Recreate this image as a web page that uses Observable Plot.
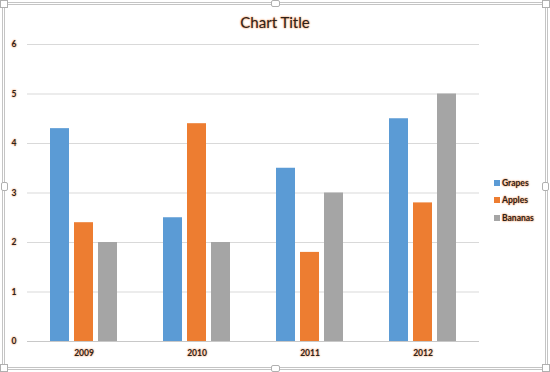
<!DOCTYPE html>
<html>
<head>
<meta charset="utf-8">
<script src="https://cdn.jsdelivr.net/npm/d3@7"></script>
<script src="https://cdn.jsdelivr.net/npm/@observablehq/plot@0.6"></script>
<style>
  html, body { margin: 0; padding: 0; background: #fff; }
  #wrap { position: relative; width: 550px; height: 372px; overflow: hidden; font-family: Lato, "Open Sans", sans-serif; }
  .glow { color: #2e2118; text-shadow: 0 0 2px #f4b183, 0 0 2px #f4b183, 0 0 1px #f4b183; }
  #frame { position: absolute; left: 2px; top: 2px; width: 540px; height: 362px; border: 3px double #c4c4c4; }
  .h { position: absolute; background: #fff; border: 1px solid #b0b0b0; box-sizing: border-box; }
  #title { position: absolute; left: 0; width: 550px; top: 13px; text-align: center; font-size: 15px; }
  #legend { position: absolute; left: 494px; top: 174px; font-size: 8.5px; font-weight: bold; }
  #legend div { height: 17.5px; display: flex; align-items: center; }
  #legend span.sw { display: inline-block; width: 6px; height: 6px; margin-right: 2px; }
  #chart { position: absolute; left: 0; top: 0; }
  #chart svg text { fill: #2e2118; text-shadow: 0 0 2px #f4b183, 0 0 2px #f4b183; font-weight: bold; }
</style>
</head>
<body>
<div id="wrap">
  <div id="chart"></div>
  <div id="frame"></div>
  <div class="h" style="left:0;top:0;width:8px;height:8px"></div>
  <div class="h" style="left:542px;top:0;width:8px;height:8px"></div>
  <div class="h" style="left:0;top:364px;width:8px;height:8px"></div>
  <div class="h" style="left:542px;top:364px;width:8px;height:8px"></div>
  <div class="h" style="left:271px;top:0;width:9px;height:7px;border-radius:2px"></div>
  <div class="h" style="left:271px;top:365px;width:9px;height:7px;border-radius:2px"></div>
  <div class="h" style="left:1px;top:182px;width:7px;height:9px;border-radius:2px"></div>
  <div class="h" style="left:542px;top:182px;width:7px;height:9px;border-radius:2px"></div>
  <div id="title" class="glow">Chart Title</div>
  <div id="legend" class="glow"></div>
</div>
<script>
const years = ["2009", "2010", "2011", "2012"];
const fruits = ["Grapes", "Apples", "Bananas"];
const grapes = [4.3, 2.5, 3.5, 4.5];
const apples = [2.4, 4.4, 1.8, 2.8];
const bananas = [2, 2, 3, 5];
const colors = ["#5B9BD5", "#ED7D31", "#A5A5A5"];
const yTicks = [0, 1, 2, 3, 4, 5, 6];

const series = [grapes, apples, bananas];
const data = [];
years.forEach((yr, i) => fruits.forEach((f, j) => data.push({year: yr, fruit: f, value: series[j][i]})));

const chart = Plot.plot({
  width: 550,
  height: 372,
  marginLeft: 26,
  marginRight: 70,
  marginTop: 44,
  marginBottom: 31,
  style: {fontFamily: "Lato, 'Open Sans', sans-serif", fontSize: "8.5px", background: "transparent"},
  fx: {domain: years, padding: 0, label: null, axis: "bottom", tickSize: 0, tickPadding: 8},
  x: {domain: fruits, paddingInner: 0.2, paddingOuter: 0.87, axis: null},
  y: {domain: [0, 6], ticks: yTicks, label: null, tickSize: 0, tickPadding: 11, tickFormat: d => d},
  color: {domain: fruits, range: colors},
  marks: [
    Plot.gridY(yTicks, {stroke: "#d9d9d9", strokeOpacity: 1}),
    Plot.ruleY([0], {stroke: "#c8c8c8"}),
    Plot.barY(data, {fx: "year", x: "fruit", y: "value", fill: "fruit"})
  ]
});
document.getElementById("chart").appendChild(chart);

const legend = document.getElementById("legend");
fruits.forEach((f, i) => {
  const row = document.createElement("div");
  row.innerHTML = `<span class="sw" style="background:${colors[i]}"></span>${f}`;
  legend.appendChild(row);
});
</script>
</body>
</html>
